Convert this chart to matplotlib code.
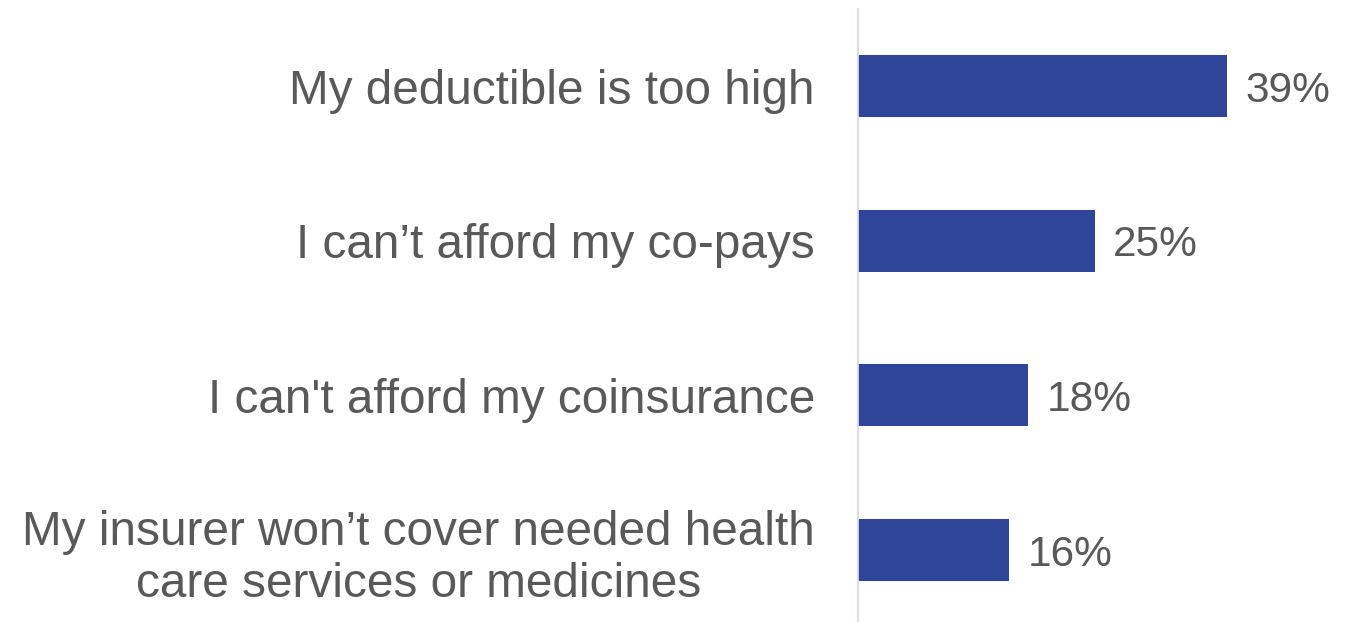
import matplotlib
matplotlib.use("Agg")
import matplotlib.pyplot as plt

categories = [
    "My deductible is too high",
    "I can\u2019t afford my co-pays",
    "I can't afford my coinsurance",
    "My insurer won\u2019t cover needed health\ncare services or medicines",
]
values = [39, 25, 18, 16]
value_labels = ["39%", "25%", "18%", "16%"]

plt.rcParams["font.family"] = ["Liberation Sans", "DejaVu Sans"]

W, H = 1356, 622
fig = plt.figure(figsize=(W / 100, H / 100), dpi=100)
ax = fig.add_axes([858 / W, 0 / H, (1331 - 858) / W, (622 - 9) / H])

text_color = "#595959"
bar_color = "#2E4599"

pos = list(range(len(categories)))
ax.barh(pos, values, height=0.4, color=bar_color)
ax.set_xlim(0, 50)
ax.set_ylim(3.465, -0.498)

for p, v, lab in zip(pos, values, value_labels):
    ax.annotate(lab, xy=(v, p), xytext=(13, 0), textcoords="offset points",
                ha="left", va="center_baseline", fontsize=30.5, color=text_color)

ax.set_yticks(pos)
ax.set_yticklabels(categories, fontsize=34.4, color=text_color)
for t in ax.get_yticklabels():
    t.set_multialignment("center")
    t.set_linespacing(1.2)
ax.tick_params(axis="y", length=0, pad=31)
ax.tick_params(axis="x", bottom=False, labelbottom=False)

for s in ["top", "right", "bottom"]:
    ax.spines[s].set_visible(False)
ax.spines["left"].set_color("#D6DCF0")
ax.spines["left"].set_linewidth(1.3)

fig.savefig("out.png", dpi=100, facecolor="white")
